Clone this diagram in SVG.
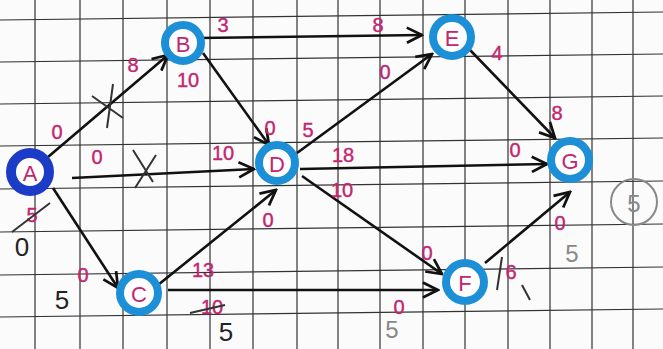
<svg xmlns="http://www.w3.org/2000/svg" width="663" height="349" viewBox="0 0 663 349">
<defs>
<style>
.grid line{stroke:#333;stroke-width:1.2}
.ring{fill:#fff;stroke:#1c8fd6;stroke-width:8}
.ringA{fill:#fff;stroke:#1c3cc8;stroke-width:10}
.nl{font-family:"Liberation Sans",Arial,sans-serif;font-size:22px;fill:#c2266f;text-anchor:middle;dominant-baseline:central}
.lab{font-family:"Liberation Sans",Arial,sans-serif;font-size:20px;fill:#c2266f;stroke:#c2266f;stroke-width:0.4;text-anchor:middle;dominant-baseline:central}
.blk{font-family:"Liberation Sans",Arial,sans-serif;font-size:26px;fill:#222;text-anchor:middle;dominant-baseline:central}
.gry{font-family:"Liberation Sans",Arial,sans-serif;font-size:24px;fill:#888;text-anchor:middle;dominant-baseline:central}
.edge{stroke:#111;stroke-width:2.6;fill:none;marker-end:url(#ah)}
.mark{stroke:#333;stroke-width:2;fill:none}
</style>
<marker id="ah" viewBox="0 0 12 12" refX="11" refY="6" markerWidth="7" markerHeight="7" orient="auto" markerUnits="strokeWidth">
<path d="M1,1 L11,6 L1,11" fill="none" stroke="#111" stroke-width="1.8"/>
</marker>
</defs>
<rect width="663" height="349" fill="#fbfbfb"/>
<g class="grid">
<line x1="35" y1="0" x2="35" y2="349"/>
<line x1="80" y1="0" x2="80" y2="349"/>
<line x1="123" y1="0" x2="123" y2="349"/>
<line x1="167" y1="0" x2="167" y2="349"/>
<line x1="210" y1="0" x2="210" y2="349"/>
<line x1="253" y1="0" x2="253" y2="349"/>
<line x1="297" y1="0" x2="297" y2="349"/>
<line x1="338" y1="0" x2="338" y2="349"/>
<line x1="380" y1="0" x2="380" y2="349"/>
<line x1="423" y1="0" x2="423" y2="349"/>
<line x1="465" y1="0" x2="465" y2="349"/>
<line x1="508" y1="0" x2="508" y2="349"/>
<line x1="550" y1="0" x2="550" y2="349"/>
<line x1="592" y1="0" x2="592" y2="349"/>
<line x1="633" y1="0" x2="633" y2="349"/>
<line x1="0" y1="20" x2="663" y2="12"/>
<line x1="0" y1="62" x2="663" y2="54"/>
<line x1="0" y1="104" x2="663" y2="96"/>
<line x1="0" y1="146" x2="663" y2="138"/>
<line x1="0" y1="189" x2="663" y2="181"/>
<line x1="0" y1="232" x2="663" y2="224"/>
<line x1="0" y1="275" x2="663" y2="267"/>
<line x1="0" y1="317" x2="663" y2="309"/>
</g>
<g id="connectors">
<path class="edge" d="M48,157 L168,55"/>
<path class="edge" d="M72,178 L254,169" stroke-width="3.4"/>
<path class="edge" d="M53,188 L118,288"/>
<path class="edge" d="M203,53 L269,145"/>
<path class="edge" d="M198,38 L422,35" stroke-width="3.2"/>
<path class="edge" d="M297,153 L432,54"/>
<path class="edge" d="M300,169 L547,164" stroke-width="3.2"/>
<path class="edge" d="M302,176 L442,274"/>
<path class="edge" d="M153,289 L276,190"/>
<path class="edge" d="M168,290 L438,290" stroke-width="3.2"/>
<path class="edge" d="M470,50 L555,138"/>
<path class="edge" d="M485,263 L570,192"/>
<path class="mark" d="M92,96 L123,118 M113,84 L107,128"/>
<path class="mark" d="M133,150 L153,182 M156,155 L135,188"/>
</g>
<g id="node-A"><circle class="ringA" cx="30" cy="172" r="19"/><text class="nl" x="30" y="173">A</text></g>
<g id="node-B"><circle class="ring" cx="183" cy="43" r="18"/><text class="nl" x="183" y="44">B</text></g>
<g id="node-C"><circle class="ring" cx="139" cy="293" r="19"/><text class="nl" x="139" y="294">C</text></g>
<g id="node-D"><circle class="ring" cx="277" cy="163" r="18"/><text class="nl" x="277" y="164">D</text></g>
<g id="node-E"><circle class="ring" cx="452" cy="37" r="19"/><text class="nl" x="452" y="38">E</text></g>
<g id="node-F"><circle class="ring" cx="465" cy="282" r="19"/><text class="nl" x="465" y="283">F</text></g>
<g id="node-G"><circle class="ring" cx="570" cy="160" r="19"/><text class="nl" x="570" y="161">G</text></g>
<g id="labels">
<text class="lab" x="223" y="25">3</text>
<text class="lab" x="133" y="65">8</text>
<text class="lab" x="188" y="80">10</text>
<text class="lab" x="57" y="132">0</text>
<text class="lab" x="97" y="157" font-size="16">0</text>
<text class="lab" x="270" y="128">0</text>
<text class="lab" x="308" y="130">5</text>
<text class="lab" x="223" y="153">10</text>
<text class="lab" x="343" y="155">18</text>
<text class="lab" x="342" y="190">10</text>
<text class="lab" x="268" y="220">0</text>
<text class="lab" x="378" y="25">8</text>
<text class="lab" x="385" y="72" font-size="15">0</text>
<text class="lab" x="497" y="53">4</text>
<text class="lab" x="557" y="113">8</text>
<text class="lab" x="515" y="150" font-size="16">0</text>
<text class="lab" x="560" y="223">0</text>
<text class="lab" x="32" y="215">5</text>
<path class="mark" d="M12,232 L50,203"/>
<text class="lab" x="83" y="275">0</text>
<text class="lab" x="203" y="270">13</text>
<text class="lab" x="212" y="307">10</text>
<path class="mark" d="M190,313 L225,305"/>
<text class="lab" x="427" y="253">0</text>
<text class="lab" x="511" y="272">6</text>
<path class="mark" d="M502,257 L497,290 M522,285 L530,300" stroke="#777" stroke-width="2.5"/>
<text class="lab" x="399" y="307">0</text>
<text class="blk" x="22" y="247">0</text>
<text class="blk" x="62" y="300">5</text>
<text class="blk" x="226" y="332">5</text>
<text class="gry" x="392" y="329">5</text>
<text class="gry" x="572" y="253">5</text>
<circle cx="634" cy="202" r="23" fill="none" stroke="#888" stroke-width="2"/>
<text class="gry" x="634" y="203">5</text>
</g>
</svg>
